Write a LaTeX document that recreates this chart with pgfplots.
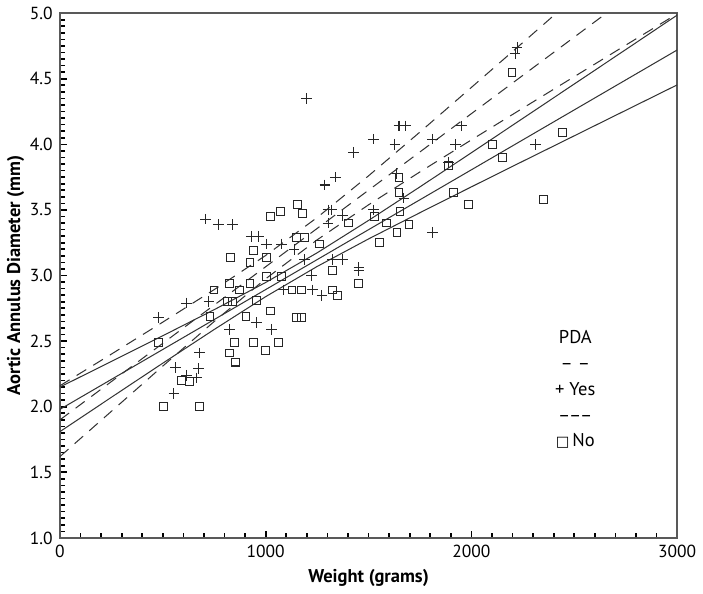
\documentclass[border=0pt]{standalone}
\usepackage{fontspec}
\setmainfont{PT Sans}
\newfontfamily\dejavu{DejaVu Sans}
\usepackage{pgfplots}
\pgfplotsset{compat=1.18}

\begin{document}
\begin{tikzpicture}
\begin{axis}[
  scale only axis,
  width=300.5pt, height=255.5pt,
  xmin=0, xmax=3000, ymin=1, ymax=5,
  xtick={0,1000,2000,3000},
  ytick={1,1.5,...,5},
  minor x tick num=9,
  minor y tick num=9,
  tick pos=left,
  tick align=inside,
  major tick length=3.5pt, minor tick length=2.5pt,
  axis line style={draw=black!65, line width=0.9pt},
  xtick style={draw=black, line width=0.8pt},
  ytick style={draw=black, line width=0.8pt},
  minor tick style={draw=black, line width=0.5pt},
  yticklabel style={/pgf/number format/.cd, fixed, fixed zerofill, precision=1},
  xticklabel style={/pgf/number format/.cd, 1000 sep={}},
  /pgf/number format/assume math mode=true,
  tick label style={font=\fontsize{8.5}{10}\selectfont},
  xlabel={\textbf{Weight (grams)}},
  ylabel={\textbf{Aortic Annulus Diameter (mm)}},
  label style={font=\fontsize{9}{11}\selectfont},
  xlabel style={yshift=1pt},
  ylabel style={yshift=-4pt},
]
% PDA = Yes (plus)
\addplot[only marks, mark=+, mark size=2.6pt, black!85, line width=0.5pt] coordinates {
(1198,4.35) (1428,3.94) (1288,3.69) (1338,3.75) (709,3.43) (769,3.39) (839,3.39)
(929,3.30) (964,3.30) (1003,3.24) (1078,3.24) (1303,3.50) (1320,3.50) (1303,3.40)
(1373,3.46) (1188,3.12) (1323,3.12) (1373,3.12) (1453,3.06) (2222,4.74) (2212,4.69)
(1648,4.14) (1678,4.14) (1523,4.04) (1628,4.00) (1812,4.04) (1922,4.00) (1952,4.14)
(2312,4.00) (1638,3.78) (1887,3.86) (1672,3.59) (1812,3.33) (479,2.68) (614,2.79)
(554,2.10) (679,2.41) (674,2.29) (664,2.22) (614,2.24) (560,2.30) (1028,2.59) (954,2.64)
(724,2.80) (824,2.59) (1228,2.89) (1273,2.85) (1453,3.04) (1223,3.00) (1138,3.20)
(1523,3.50) (1088,2.89)
};
% PDA = No (square)
\addplot[only marks, mark=square, mark size=1.9pt, black!85, line width=0.5pt] coordinates {
(2197,4.55) (2102,4.00) (2152,3.90) (2441,4.09) (1912,3.63) (1987,3.54) (2351,3.58)
(1648,3.75) (1648,3.63) (1653,3.49) (1588,3.40) (1638,3.33) (1697,3.39) (1553,3.25)
(479,2.49) (504,2.00) (679,2.00) (589,2.20) (629,2.19) (849,2.49) (939,2.49) (998,2.43)
(1063,2.49) (824,2.41) (854,2.34) (1148,2.68) (1173,2.68) (1023,2.73) (749,2.89)
(824,2.94) (874,2.89) (729,2.69) (814,2.80) (839,2.80) (904,2.69) (954,2.81) (924,2.94)
(1003,2.99) (1078,2.99) (1128,2.89) (1173,2.89) (1323,2.89) (1348,2.85) (1323,3.04)
(1453,2.94) (1023,3.45) (939,3.19) (829,3.14) (1003,3.14) (924,3.10) (1153,3.54)
(1178,3.47) (1073,3.49) (1403,3.40) (1530,3.45) (1148,3.29) (1188,3.29) (1263,3.24)
(1887,3.84)
};
% PDA = Yes: fit and confidence band (dashed)
\addplot[black!80, line width=0.5pt, dash pattern=on 5.5pt off 4pt] coordinates {
(0,2.160) (250,2.401) (500,2.645) (750,2.893) (1000,3.153) (1250,3.442) (1500,3.760)
(1750,4.094) (2000,4.434) (2250,4.776) (2500,5.119) (2750,5.463) (3000,5.807)};
\addplot[black!80, line width=0.5pt, dash pattern=on 5.5pt off 4pt] coordinates {
(0,1.900) (3000,5.401)};
\addplot[black!80, line width=0.5pt, dash pattern=on 5.5pt off 4pt] coordinates {
(0,1.620) (250,1.965) (500,2.310) (750,2.650) (1000,2.975) (1250,3.272) (1500,3.539)
(1750,3.790) (2000,4.034) (2250,4.276) (2500,4.516) (2750,4.756) (3000,4.995)};
% PDA = No: fit and confidence band (solid)
\addplot[black!80, line width=0.5pt] coordinates {
(0,2.150) (250,2.345) (500,2.541) (750,2.740) (1000,2.947) (1250,3.173) (1500,3.420)
(1750,3.676) (2000,3.936) (2250,4.198) (2500,4.460) (2750,4.722) (3000,4.985)};
\addplot[black!80, line width=0.5pt] coordinates {
(0,1.980) (3000,4.719)};
\addplot[black!80, line width=0.5pt] coordinates {
(0,1.810) (250,2.072) (500,2.332) (750,2.589) (1000,2.839) (1250,3.069) (1500,3.279)
(1750,3.479) (2000,3.676) (2250,3.871) (2500,4.065) (2750,4.259) (3000,4.453)};
% legend
\node[font=\fontsize{9}{13.5}\selectfont, align=center] at (axis cs:2505,2.13) {%
PDA\\[-1pt] \textendash\ \textendash\\[-1pt] + Yes\\[-1pt]
\textendash\kern-0.6pt\textendash\kern-0.6pt\textendash\\[-1pt]
{\dejavu\fontsize{7}{8}\selectfont □}\,No};
\end{axis}
\end{tikzpicture}
\end{document}
